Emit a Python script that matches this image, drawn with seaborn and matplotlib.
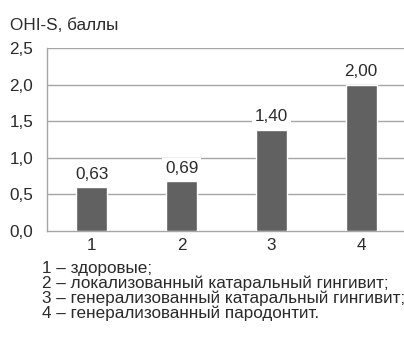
import matplotlib
matplotlib.use("Agg")
import matplotlib.pyplot as plt
import seaborn as sns
import pandas as pd

# данные
groups = ["1", "2", "3", "4"]
ohi_s = [0.60, 0.68, 1.38, 2.00]
value_labels = ["0,63", "0,69", "1,40", "2,00"]
y_ticks = [0.0, 0.5, 1.0, 1.5, 2.0, 2.5]
y_ticklabels = ["0,0", "0,5", "1,0", "1,5", "2,0", "2,5"]
legend_lines = [
    "1 – здоровые;",
    "2 – локализованный катаральный гингивит;",
    "3 – генерализованный катаральный гингивит;",
    "4 – генерализованный пародонтит.",
]

sns.set_theme(style="white")
plt.rcParams["font.family"] = ["Liberation Sans", "DejaVu Sans"]

TEXT = "#2a2a2a"
GRID = "#a6a6a6"
BAR = "#616161"
FS = 12.3

df = pd.DataFrame({"group": groups, "value": ohi_s})

fig = plt.figure(figsize=(4.04, 3.4), dpi=100)
ax = fig.add_axes([47 / 404, 1 - 231 / 340, (406 - 47) / 404, (231 - 48) / 340])

sns.barplot(data=df, x="group", y="value", color=BAR, width=0.345, saturation=1, ax=ax, zorder=3)

ax.set_ylim(0, 2.5)
ax.set_xlim(-0.5, 3.5)
ax.set_yticks(y_ticks)
ax.set_yticklabels(y_ticklabels, fontsize=FS, color=TEXT)
ax.set_xticklabels(groups, fontsize=FS, color=TEXT)
ax.tick_params(axis="y", length=0, pad=10)
ax.tick_params(axis="x", length=0, pad=5)
ax.set_xlabel("")
ax.set_ylabel("")
for y in y_ticks[1:]:
    ax.axhline(y, color=GRID, lw=1, zorder=1)
for side in ["top", "right"]:
    ax.spines[side].set_visible(False)
for side in ["left", "bottom"]:
    ax.spines[side].set_color(GRID)
    ax.spines[side].set_linewidth(1)

for i, (v, lab) in enumerate(zip(ohi_s, value_labels)):
    ax.annotate(lab, (i, v), xytext=(0, 4), textcoords="offset points",
                ha="center", va="bottom", fontsize=FS, color=TEXT, zorder=4,
                bbox=dict(boxstyle="square,pad=0.15", fc="white", ec="none"))

fig.text(10 / 404, 1 - 25 / 340, "OHI-S, баллы", fontsize=FS, color=TEXT, ha="left", va="center")

for k, line in enumerate(legend_lines):
    fig.text(42 / 404, 1 - (268 + 15 * k) / 340, line, fontsize=FS, color=TEXT,
             ha="left", va="center")

fig.savefig("out.png", dpi=100, facecolor="white")
